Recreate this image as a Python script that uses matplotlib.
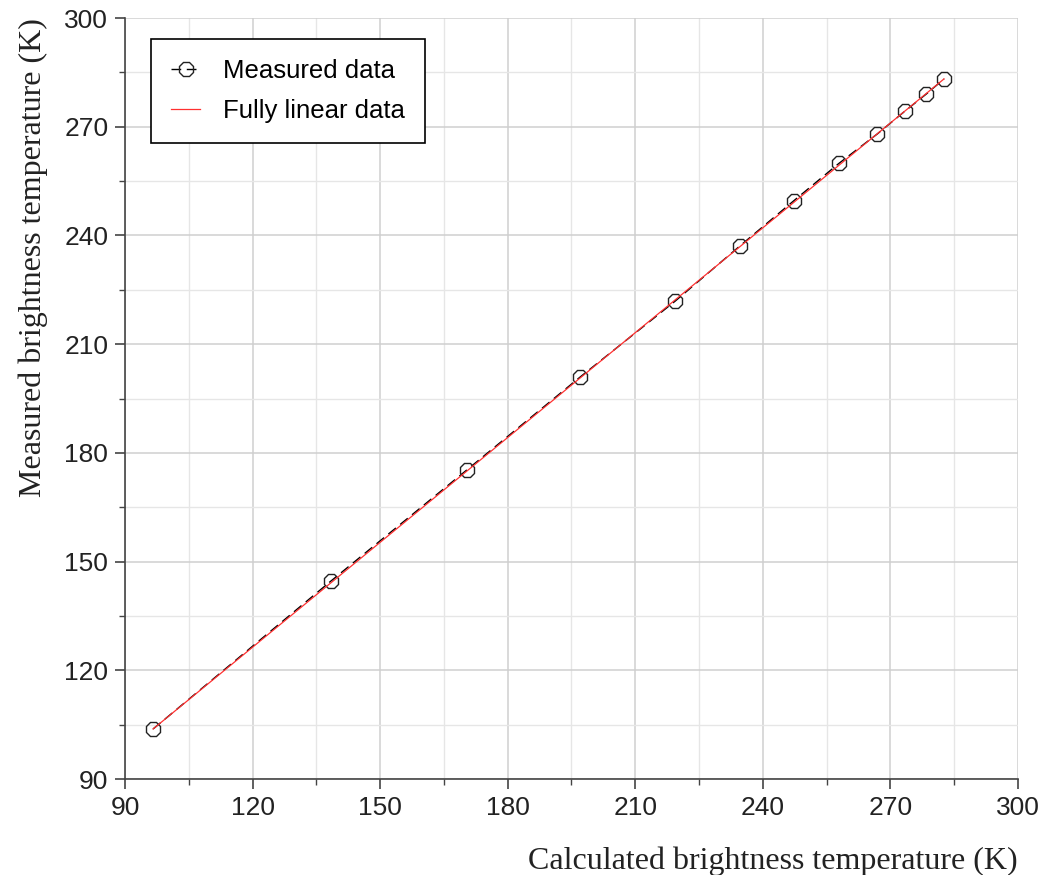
import matplotlib.pyplot as plt
from matplotlib.ticker import MultipleLocator

# calculated vs measured brightness temperature (K)
calc_tb = [96.6, 138.4, 170.4, 197.0, 219.4, 234.6, 247.3, 257.9, 266.9, 273.4, 278.4, 282.6]
meas_tb = [103.8, 144.6, 175.3, 200.9, 221.9, 237.1, 249.6, 259.9, 268.0, 274.3, 279.0, 283.2]

# fully linear reference line (end points)
linear_x = [96.6, 282.6]
linear_y = [103.8, 283.2]

fig = plt.figure(figsize=(10.52, 8.75), dpi=100)
ax = fig.add_axes([0.1188, 0.1097, 0.8489, 0.8697])

ax.plot(calc_tb, meas_tb, color="black", linewidth=1.0, linestyle=(0, (7, 4)),
        marker="8", markersize=11, markerfacecolor="none",
        markeredgecolor="#222222", markeredgewidth=1.0,
        label="Measured data", zorder=3)
ax.plot(linear_x, linear_y, color="#ff3030", linewidth=0.9,
        label="Fully linear data", zorder=4)

ax.set_xlim(90, 300)
ax.set_ylim(90, 300)
ax.xaxis.set_major_locator(MultipleLocator(30))
ax.yaxis.set_major_locator(MultipleLocator(30))
ax.xaxis.set_minor_locator(MultipleLocator(15))
ax.yaxis.set_minor_locator(MultipleLocator(15))

ax.grid(which="major", color="#cfcfcf", linewidth=1.1)
ax.grid(which="minor", color="#e6e6e6", linewidth=1.0)
ax.set_axisbelow(True)

for side in ["top", "right"]:
    ax.spines[side].set_visible(False)
for side in ["left", "bottom"]:
    ax.spines[side].set_color("#444444")
    ax.spines[side].set_linewidth(1.2)

ax.tick_params(which="major", direction="out", length=7, width=1.2,
               color="#444444", labelsize=19, pad=5)
ax.tick_params(which="minor", direction="out", length=4, width=1.0,
               color="#444444")
for lbl in ax.get_xticklabels() + ax.get_yticklabels():
    lbl.set_family("Liberation Sans")
    lbl.set_color("#222222")

ax.set_xlabel("Calculated brightness temperature (K)", family="Liberation Serif",
              fontsize=23, loc="right", labelpad=19, color="#222222")
ax.set_ylabel("Measured brightness temperature (K)", family="Liberation Serif",
              fontsize=23, loc="top", labelpad=12, color="#222222")

leg = ax.legend(loc="upper left", bbox_to_anchor=(0.029, 0.973),
                prop={"family": "Liberation Sans", "size": 18.5},
                fancybox=False, framealpha=1, edgecolor="black",
                borderpad=0.8, labelspacing=0.6, handlelength=1.1,
                handletextpad=0.9, borderaxespad=0)
leg.get_frame().set_linewidth(1.2)

fig.savefig("out.png", dpi=100)
